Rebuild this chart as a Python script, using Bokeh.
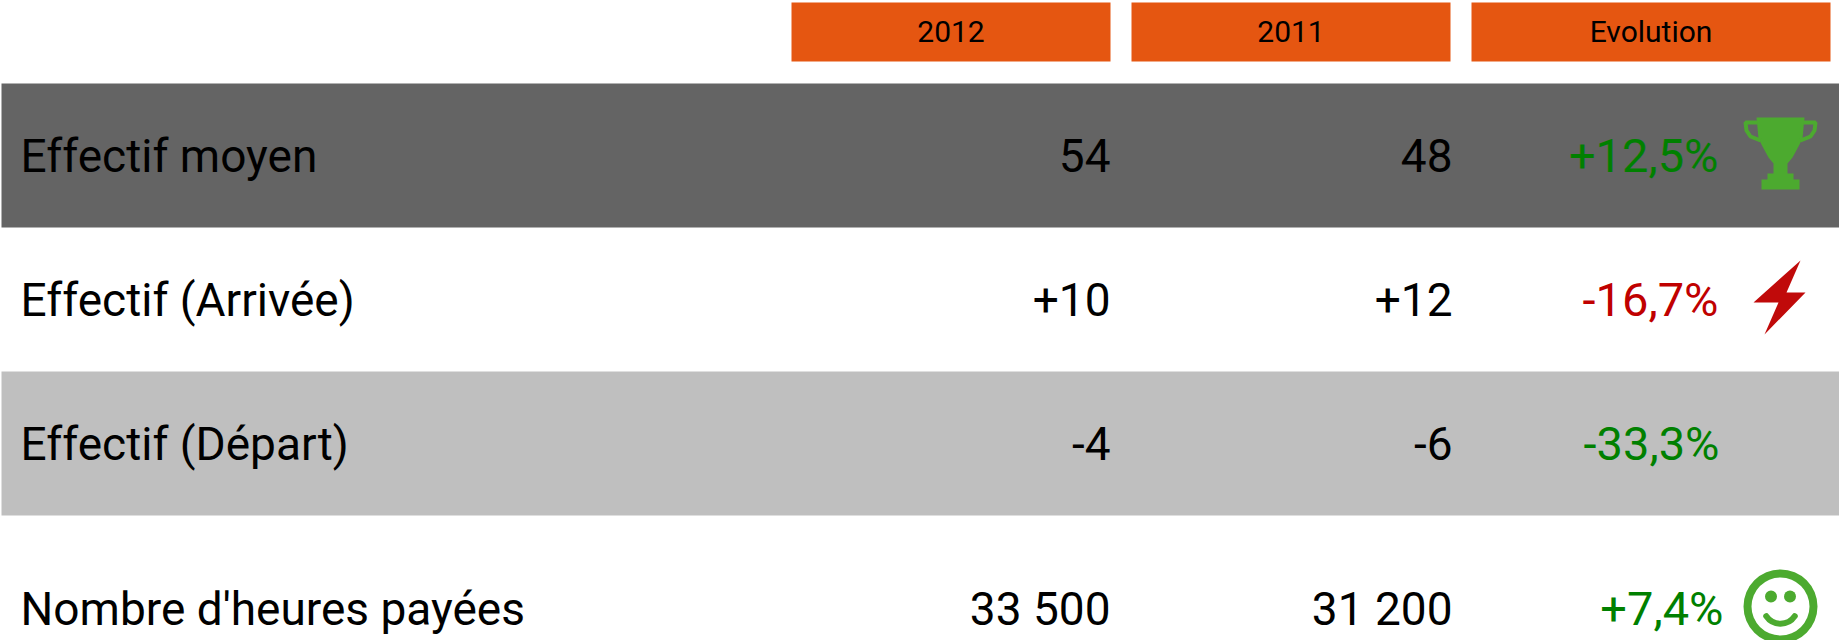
from bokeh.embed import file_html
from bokeh.resources import INLINE
from bokeh.plotting import figure
from bokeh.models import Range1d
from bokeh.core.properties import value
import math

W, H = 1839, 640

# ---- table content ----
headers = ["2012", "2011", "Evolution"]
labels = ["Effectif moyen", "Effectif (Arrivée)", "Effectif (Départ)", "Nombre d'heures payées"]
vals_2012 = ["54", "+10", "-4", "33 500"]
vals_2011 = ["48", "+12", "-6", "31 200"]
evolution = ["+12,5%", "-16,7%", "-33,3%", "+7,4%"]
evolution_colors = ["#008000", "#C00000", "#008000", "#008000"]

# ---- layout, in page pixels ----
header_left = [791, 1131, 1471]
header_right = [1110, 1450, 1830]
row_bands = [(83, 227, "#646464"), (371, 515, "#BFBFBF")]
centers = [155, 299, 443, 608]
evo_right = [1718, 1718, 1719, 1723]

ORANGE = "#E55611"
ICON_GREEN = "#4CAA2F"
ICON_RED = "#C00A0A"
FONT = value("Roboto")

p = figure(width=W, height=H, output_backend="svg", toolbar_location=None,
           x_range=Range1d(0, W), y_range=Range1d(H, 0), min_border=0,
           x_axis_location=None, y_axis_location=None,
           styles={"position": "absolute", "left": "0", "top": "0"})
p.grid.visible = False
p.outline_line_color = None
p.background_fill_color = "white"
p.border_fill_color = "white"

# bands
for top, bottom, col in row_bands:
    p.quad(left=1, right=W, top=top, bottom=bottom, fill_color=col, line_color=None)

# header cells
p.quad(left=header_left, right=header_right, top=[2] * 3, bottom=[61] * 3,
       fill_color=ORANGE, line_color=None)
p.text(x=[(a + b) / 2 for a, b in zip(header_left, header_right)], y=[31] * 3, text=headers,
       text_font=FONT, text_font_size="30px", text_color="black",
       text_align="center", text_baseline="middle")

# rows
p.text(x=[20] * 4, y=centers, text=labels, text_font=FONT, text_font_size="46px",
       text_color="black", text_align="left", text_baseline="middle")
p.text(x=[1110] * 4, y=centers, text=vals_2012, text_font=FONT, text_font_size="46px",
       text_color="black", text_align="right", text_baseline="middle")
p.text(x=[1452] * 4, y=centers, text=vals_2011, text_font=FONT, text_font_size="46px",
       text_color="black", text_align="right", text_baseline="middle")
p.text(x=evo_right, y=centers, text=evolution, text_font=FONT, text_font_size="47px",
       text_color=evolution_colors, text_align="right", text_baseline="middle")

# trophy icon (outline in page pixels)
trophy_x = [1756, 1804, 1802, 1798, 1792, 1787, 1787, 1793, 1793, 1799, 1799, 1761, 1761, 1767, 1767, 1773, 1773, 1768, 1762, 1758]
trophy_y = [117, 117, 138, 146, 157, 163, 173, 173, 179, 179, 189, 189, 179, 179, 173, 173, 163, 157, 146, 138]
p.patch(trophy_x, trophy_y, fill_color=ICON_GREEN, line_color=None)
p.multi_line([[1757, 1745, 1746, 1750, 1760], [1803, 1815, 1814, 1810, 1800]],
             [[122, 122, 130, 136, 140], [122, 122, 130, 136, 140]],
             line_color=ICON_GREEN, line_width=4)

# lightning icon
p.patch([1800, 1786, 1805, 1764, 1778, 1753], [260, 292, 292, 334, 302, 302],
        fill_color=ICON_RED, line_color=None)

# smiley icon
fx, fy = 1780, 606
p.annulus(x=[fx], y=[fy], inner_radius=29, outer_radius=37, fill_color=ICON_GREEN, line_color=None)
p.circle(x=[fx - 9.5, fx + 9.5], y=[fy - 10, fy - 10], radius=6, fill_color=ICON_GREEN, line_color=None)
p.arc(x=[fx], y=[fy], radius=17.2, start_angle=math.radians(214), end_angle=math.radians(326),
      line_color=ICON_GREEN, line_width=6, line_cap="round")

open("out.html", "w").write(file_html(p, INLINE))
